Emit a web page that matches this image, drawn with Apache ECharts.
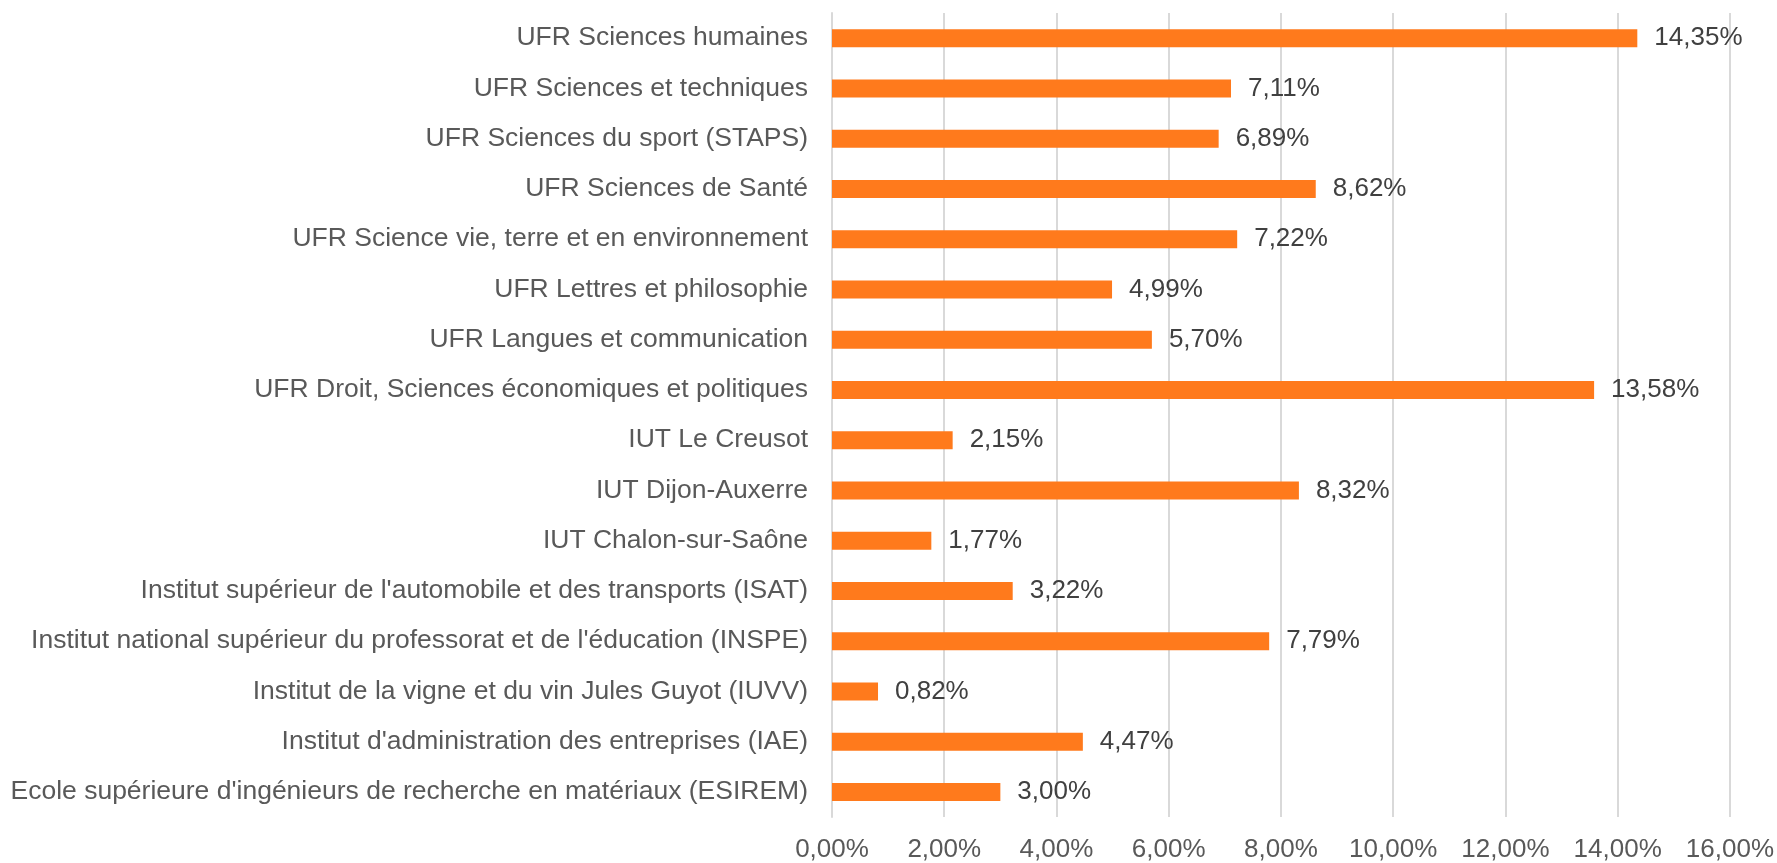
<!DOCTYPE html>
<html>
<head>
<meta charset="utf-8">
<script src="https://cdn.jsdelivr.net/npm/echarts@6/dist/echarts.min.js"></script>
<style>
  html, body { margin: 0; padding: 0; background: #fff; }
  #chart { width: 1777px; height: 863px; }
</style>
</head>
<body>
<div id="chart"></div>
<script>
// composantes, de haut en bas
const categories = [
  'UFR Sciences humaines',
  'UFR Sciences et techniques',
  'UFR Sciences du sport (STAPS)',
  'UFR Sciences de Santé',
  'UFR Science vie, terre et en environnement',
  'UFR Lettres et philosophie',
  'UFR Langues et communication',
  'UFR Droit, Sciences économiques et politiques',
  'IUT Le Creusot',
  'IUT Dijon-Auxerre',
  'IUT Chalon-sur-Saône',
  "Institut supérieur de l'automobile et des transports (ISAT)",
  "Institut national supérieur du professorat et de l'éducation (INSPE)",
  'Institut de la vigne et du vin Jules Guyot (IUVV)',
  "Institut d'administration des entreprises (IAE)",
  "Ecole supérieure d'ingénieurs de recherche en matériaux (ESIREM)"
]

// parts en %
const shares = [14.35, 7.11, 6.89, 8.62, 7.22, 4.99, 5.70, 13.58, 2.15, 8.32, 1.77, 3.22, 7.79, 0.82, 4.47, 3.00]

const fmtPct = (v) => Number(v).toFixed(2).replace('.', ',') + '%'

const font = 'Liberation Sans, Arial, sans-serif'
const textColor = '#595959'

const myChart = echarts.init(document.getElementById('chart'))

const option = {
  animation: false,
  grid: {
    left: 832,
    right: 46,
    top: 13,
    bottom: 46,
    containLabel: false
  },
  xAxis: {
    type: 'value',
    min: 0,
    max: 16,
    interval: 2,
    axisLine: { show: false },
    axisTick: { show: false },
    axisLabel: {
      formatter: (v) => fmtPct(v),
      color: textColor,
      fontFamily: font,
      fontSize: 26,
      margin: 20
    },
    splitLine: { lineStyle: { color: '#D9D9D9', width: 2 } }
  },
  yAxis: {
    type: 'category',
    data: categories,
    inverse: true,
    axisLine: { show: true, lineStyle: { color: '#D9D9D9', width: 2 } },
    axisTick: { show: false },
    axisLabel: {
      color: textColor,
      fontFamily: font,
      fontSize: 26.5,
      margin: 24
    }
  },
  series: [
    {
      type: 'bar',
      data: shares,
      barWidth: 18,
      itemStyle: { color: '#FF7A1C' },
      label: {
        show: true,
        position: 'right',
        distance: 17,
        formatter: (p) => fmtPct(p.value),
        color: '#404040',
        fontFamily: font,
        fontSize: 26
      }
    }
  ]
}

myChart.setOption(option)
</script>
</body>
</html>
